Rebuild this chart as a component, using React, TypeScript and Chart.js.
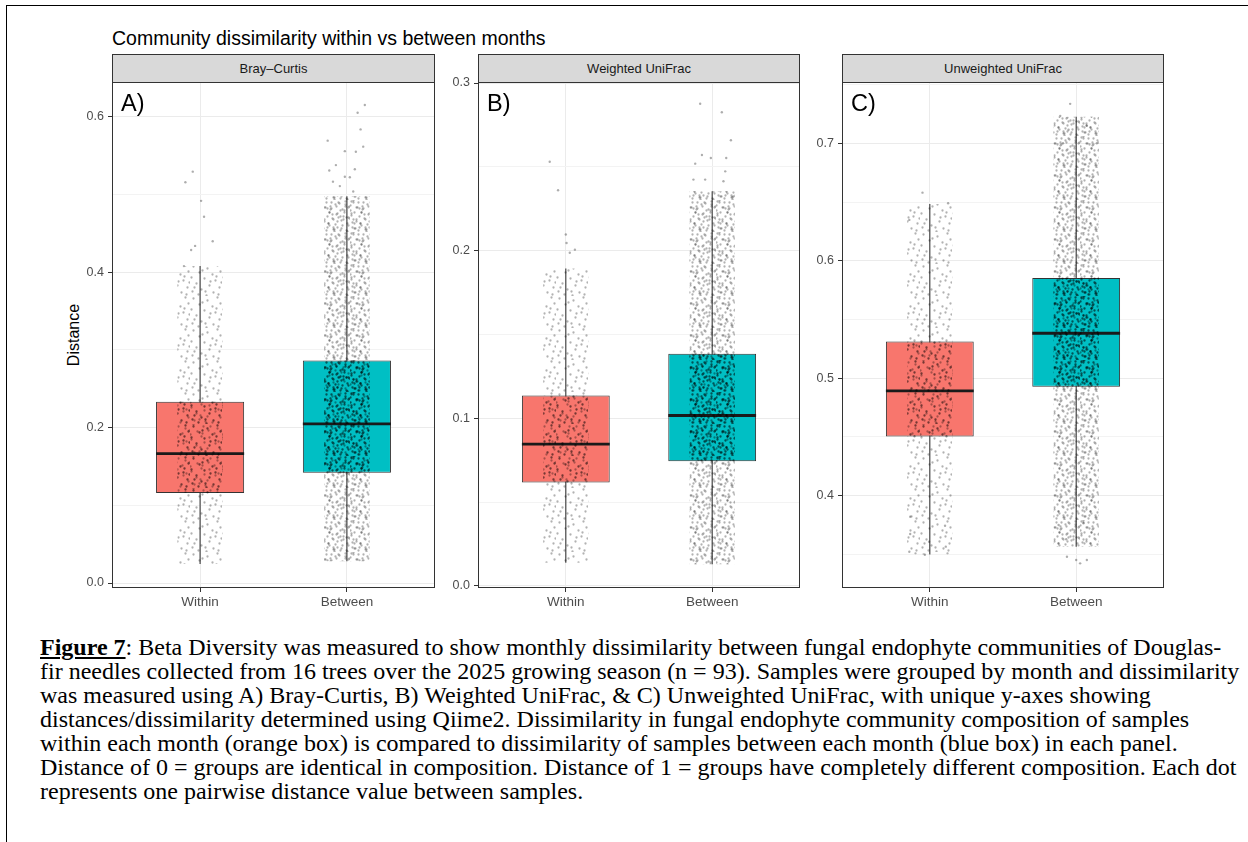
import React, { useEffect, useRef } from "react";
import { Chart, registerables } from "chart.js";

Chart.register(...registerables);

// ---------- data ----------
const categories = ["Within", "Between"];
const panelTitles = ["Bray–Curtis", "Weighted UniFrac", "Unweighted UniFrac"];
const panelTags = ["A)", "B)", "C)"];

// five-number summaries: [lower whisker, Q1, median, Q3, upper whisker]
const brayWithin = [0.0245, 0.116, 0.1665, 0.2335, 0.408];
const brayBetween = [0.028, 0.142, 0.205, 0.2865, 0.498];
const wuniWithin = [0.0139, 0.0617, 0.0846, 0.1136, 0.1893];
const wuniBetween = [0.013, 0.0744, 0.1017, 0.1385, 0.2354];
const uuniWithin = [0.35, 0.4503, 0.4892, 0.5312, 0.6483];
const uuniBetween = [0.3566, 0.4928, 0.5383, 0.5853, 0.7227];

// isolated points beyond the dense cloud: value and horizontal jitter (category units)
const brayWithinPts = [0.5296, 0.516, 0.492, 0.4716, 0.44, 0.434, 0.4287, 0.408];
const brayWithinJit = [-0.05, -0.1, 0.007, 0.027, 0.086, -0.034, -0.061, -0.11];
const brayBetweenPts = [0.6154, 0.6055, 0.584, 0.5695, 0.5618, 0.556, 0.5553, 0.538, 0.5326, 0.531, 0.523, 0.5223, 0.5167, 0.511, 0.504];
const brayBetweenJit = [0.122, 0.073, 0.093, -0.131, 0.111, -0.014, 0.061, -0.075, 0.054, -0.12, -0.014, 0.02, -0.095, -0.048, 0.043];
const wuniWithinPts = [0.253, 0.236, 0.2096, 0.2006, 0.1988, 0.2046];
const wuniWithinJit = [-0.11, -0.053, 0.0, 0.062, 0.027, 0.005];
const wuniBetweenPts = [0.2876, 0.2826, 0.2659, 0.2519, 0.2571, 0.2553, 0.2553, 0.2473, 0.2424, 0.2424, 0.2414, 0.2324];
const wuniBetweenJit = [-0.082, 0.066, 0.128, -0.116, -0.07, -0.009, 0.096, 0.089, -0.128, -0.048, 0.077, 0.146];
const uuniWithinPts = [0.658, 0.649, 0.6348, 0.3523, 0.3497, 0.3566, 0.3674, 0.382, 0.3744, 0.3608];
const uuniWithinJit = [-0.05, 0.125, -0.14, -0.14, -0.034, 0.109, -0.134, -0.134, 0.104, -0.005];
const uuniBetweenPts = [0.7336, 0.7234, 0.715, 0.7115, 0.7, 0.7, 0.348, 0.3452, 0.3452, 0.3424, 0.3629, 0.3765, 0.375];
const uuniBetweenJit = [-0.041, -0.109, 0.073, -0.052, -0.09, 0.141, -0.063, 0.0, 0.073, 0.027, -0.068, 0.05, -0.12];

// axis ticks
const brayMajor = [0.0, 0.2, 0.4, 0.6];
const brayMinor = [0.1, 0.3, 0.5];
const wuniMajor = [0.0, 0.1, 0.2, 0.3];
const wuniMinor = [0.05, 0.15, 0.25];
const uuniMajor = [0.4, 0.5, 0.6, 0.7];
const uuniMinor = [0.35, 0.45, 0.55, 0.65, 0.75];

const captionLines = [
  "Beta Diversity was measured to show monthly dissimilarity between fungal endophyte communities of Douglas-",
  "fir needles collected from 16 trees over the 2025 growing season (n = 93). Samples were grouped by month and dissimilarity",
  "was measured using A) Bray-Curtis, B) Weighted UniFrac, & C) Unweighted UniFrac, with unique y-axes showing",
  "distances/dissimilarity determined using Qiime2. Dissimilarity in fungal endophyte community composition of samples",
  "within each month (orange box) is compared to dissimilarity of samples between each month (blue box) in each panel.",
  "Distance of 0 = groups are identical in composition. Distance of 1 = groups have completely different composition. Each dot",
  "represents one pairwise distance value between samples.",
];

// ---------- layout & style ----------
const FONT = "'Liberation Sans', Arial, sans-serif";
const SERIF = "'Liberation Serif', 'Times New Roman', serif";
const BOX_WIDTH = 0.6;
const CLOUD_WIDTH = 0.31;
const X_MIN = 0.4;
const X_MAX = 2.6;
const YW = 50;
const XH = 30;
const TOP_PAD = 10;
const AREA_TOP = 82;
const AREA_BOTTOM = 588;
const FILLS = ["#F8766D", "#00BFC4"];

// texture for the dense jitter clouds (style only)
const TILE_DOTS = [
  [3, 2], [17, 4], [27, 1], [9, 8], [22, 10], [30, 7], [1, 13], [14, 14],
  [25, 16], [6, 19], [19, 21], [29, 23], [11, 25], [2, 27], [23, 28], [16, 31],
  [8, 30], [31, 18], [12, 6], [26, 12], [4, 23], [20, 17], [15, 27], [28, 30],
];
const TILE_SHIFTS = [[0, 0], [16, 11], [7, 21], [24, 26]];

function makePattern(copies: number, alpha: number): any {
  const size = 32;
  const c = document.createElement("canvas");
  c.width = size;
  c.height = size;
  const g = c.getContext("2d");
  if (!g) return "rgba(0,0,0,0.15)";
  g.fillStyle = `rgba(0,0,0,${alpha})`;
  const put = (x: number, y: number) => {
    g.beginPath();
    g.arc((x % size) + 0.5, (y % size) + 0.5, 1.15, 0, Math.PI * 2);
    g.fill();
  };
  TILE_SHIFTS.slice(0, copies).forEach(([dx, dy]) => {
    TILE_DOTS.forEach(([x, y]) => put(x + dx, y + dy));
  });
  return g.createPattern(c, "repeat") || "rgba(0,0,0,0.15)";
}

type PanelSpec = {
  title: string;
  tag: string;
  stats: number[][];
  pts: number[][];
  jit: number[][];
  major: number[];
  minor: number[];
  yMin: number;
  yMax: number;
  left: number;
  right: number;
};

const panels: PanelSpec[] = [
  {
    title: panelTitles[0], tag: panelTags[0],
    stats: [brayWithin, brayBetween],
    pts: [brayWithinPts, brayBetweenPts], jit: [brayWithinJit, brayBetweenJit],
    major: brayMajor, minor: brayMinor, yMin: -0.0064, yMax: 0.645, left: 112, right: 435,
  },
  {
    title: panelTitles[1], tag: panelTags[1],
    stats: [wuniWithin, wuniBetween],
    pts: [wuniWithinPts, wuniBetweenPts], jit: [wuniWithinJit, wuniBetweenJit],
    major: wuniMajor, minor: wuniMinor, yMin: -0.0012, yMax: 0.3006, left: 478, right: 800,
  },
  {
    title: panelTitles[2], tag: panelTags[2],
    stats: [uuniWithin, uuniBetween],
    pts: [uuniWithinPts, uuniBetweenPts], jit: [uuniWithinJit, uuniBetweenJit],
    major: uuniMajor, minor: uuniMinor, yMin: 0.3214, yMax: 0.7522, left: 842, right: 1164,
  },
];

const isIn = (v: number, arr: number[]) => arr.some((t) => Math.abs(t - v) < 1e-9);

const panelBorder = {
  id: "panelBorder",
  afterDraw(chart: any) {
    const { ctx, chartArea: a } = chart;
    ctx.save();
    ctx.strokeStyle = "#333333";
    ctx.lineWidth = 1;
    const l = Math.round(a.left) + 0.5;
    const t = Math.round(a.top) + 0.5;
    const r = Math.round(a.right) - 0.5;
    const b = Math.round(a.bottom) - 0.5;
    ctx.strokeRect(l, t, r - l, b - t);
    ctx.restore();
  },
};

function buildConfig(p: PanelSpec): any {
  const xs = categories.map((_, i) => i + 1);
  const sparse = makePattern(1, 0.3);
  const medium = makePattern(2, 0.32);
  const mediumDense = makePattern(3, 0.3);
  const dense = makePattern(4, 0.36);

  const whiskers: any[] = [];
  const medians: any[] = [];
  xs.forEach((x, i) => {
    const s = p.stats[i];
    if (i > 0) {
      whiskers.push({ x: x - 0.5, y: null });
      medians.push({ x: x - 0.5, y: null });
    }
    whiskers.push({ x, y: s[0] }, { x, y: s[4] });
    medians.push({ x: x - BOX_WIDTH / 2, y: s[2] }, { x: x + BOX_WIDTH / 2, y: s[2] });
  });
  const points: any[] = [];
  xs.forEach((x, i) => {
    p.pts[i].forEach((v, k) => points.push({ x: x + p.jit[i][k], y: v }));
  });

  const allTicks = [...p.major, ...p.minor].sort((a, b) => a - b);

  return {
    type: "bar",
    data: {
      datasets: [
        {
          type: "line",
          data: whiskers,
          borderColor: "#3a3a3a",
          borderWidth: 1.1,
          pointRadius: 0,
          spanGaps: false,
          order: 9,
        },
        {
          type: "bar",
          data: xs.map((x, i) => ({ x, y: [p.stats[i][1], p.stats[i][3]] })),
          backgroundColor: FILLS,
          borderColor: "#333333",
          borderWidth: 1,
          borderSkipped: false,
          grouped: false,
          categoryPercentage: 1,
          barPercentage: BOX_WIDTH,
          order: 8,
        },
        {
          type: "line",
          data: medians,
          borderColor: "#1a1a1a",
          borderWidth: 2.8,
          pointRadius: 0,
          spanGaps: false,
          order: 7,
        },
        {
          type: "bar",
          data: xs.map((x, i) => ({ x, y: [p.stats[i][0], p.stats[i][4]] })),
          backgroundColor: [sparse, mediumDense],
          borderWidth: 0,
          grouped: false,
          categoryPercentage: 1,
          barPercentage: CLOUD_WIDTH,
          order: 6,
        },
        {
          type: "bar",
          data: xs.map((x, i) => ({ x, y: [p.stats[i][1], p.stats[i][3]] })),
          backgroundColor: [medium, dense],
          borderWidth: 0,
          grouped: false,
          categoryPercentage: 1,
          barPercentage: CLOUD_WIDTH,
          order: 5,
        },
        {
          type: "scatter",
          data: points,
          backgroundColor: "rgba(0,0,0,0.32)",
          borderWidth: 0,
          pointRadius: 1.2,
          order: 4,
        },
      ],
    },
    options: {
      animation: false,
      responsive: false,
      maintainAspectRatio: false,
      events: [],
      layout: { autoPadding: false, padding: { top: TOP_PAD, right: 2, left: 0, bottom: 0 } },
      plugins: {
        legend: { display: false },
        tooltip: { enabled: false },
        title: { display: false },
      },
      scales: {
        x: {
          type: "linear",
          min: X_MIN,
          max: X_MAX,
          offset: false,
          afterBuildTicks: (s: any) => {
            s.ticks = xs.map((v) => ({ value: v }));
          },
          afterFit: (s: any) => {
            s.height = XH;
            s.paddingLeft = 0;
            s.paddingRight = 0;
          },
          ticks: {
            autoSkip: false,
            maxRotation: 0,
            padding: 2,
            color: "#4D4D4D",
            font: { family: FONT, size: 13.5 },
            callback: (v: number) => categories[Math.round(v) - 1] ?? "",
          },
          grid: {
            offset: false,
            color: "#EBEBEB",
            tickColor: "#333333",
            tickLength: 4,
          },
          border: { display: false },
        },
        y: {
          type: "linear",
          min: p.yMin,
          max: p.yMax,
          afterBuildTicks: (s: any) => {
            s.ticks = allTicks.map((v) => ({ value: v }));
          },
          afterFit: (s: any) => {
            s.width = YW;
            s.paddingTop = 0;
            s.paddingBottom = 0;
          },
          ticks: {
            autoSkip: false,
            padding: 4,
            color: "#4D4D4D",
            font: { family: FONT, size: 12.5 },
            callback: (v: number) => (isIn(v, p.major) ? v.toFixed(1) : ""),
          },
          grid: {
            color: (c: any) => (c.tick && isIn(c.tick.value, p.major) ? "#EBEBEB" : "#F3F3F3"),
            tickColor: (c: any) => (c.tick && isIn(c.tick.value, p.major) ? "#333333" : "rgba(0,0,0,0)"),
            tickLength: 4,
          },
          border: { display: false },
        },
      },
    },
    plugins: [panelBorder],
  };
}

function Panel({ spec }: { spec: PanelSpec }) {
  const ref = useRef<HTMLCanvasElement | null>(null);
  const width = spec.right - spec.left + YW + 2;
  const height = AREA_BOTTOM - AREA_TOP + TOP_PAD + XH;
  useEffect(() => {
    if (!ref.current) return;
    const chart = new Chart(ref.current, buildConfig(spec));
    return () => chart.destroy();
  }, [spec]);
  return (
    <>
      <canvas
        ref={ref}
        width={width}
        height={height}
        style={{
          position: "absolute",
          left: spec.left - YW,
          top: AREA_TOP - TOP_PAD,
          width,
          height,
        }}
      />
      <div
        style={{
          position: "absolute",
          left: spec.left,
          top: 54,
          width: spec.right - spec.left,
          height: 29,
          boxSizing: "border-box",
          background: "#D9D9D9",
          border: "1px solid #333333",
          font: `13px ${FONT}`,
          color: "#1A1A1A",
          textAlign: "center",
          lineHeight: "27px",
        }}
      >
        {spec.title}
      </div>
      <div
        style={{
          position: "absolute",
          left: spec.left + 9,
          top: 91,
          font: `23.5px ${FONT}`,
          lineHeight: "24px",
          color: "#000",
        }}
      >
        {spec.tag}
      </div>
    </>
  );
}

export default function App() {
  return (
    <div
      style={{
        position: "absolute",
        left: 0,
        top: 0,
        width: 1248,
        height: 842,
        background: "#fff",
        overflow: "hidden",
      }}
    >
      <div
        style={{
          position: "absolute",
          left: 6,
          top: 5,
          width: 1260,
          height: 900,
          borderLeft: "1px solid #000",
          borderTop: "1px solid #000",
        }}
      />
      <div
        style={{
          position: "absolute",
          left: 112,
          top: 27,
          font: `19.5px ${FONT}`,
          lineHeight: "22px",
          color: "#000",
          whiteSpace: "nowrap",
        }}
      >
        Community dissimilarity within vs between months
      </div>
      <div
        style={{
          position: "absolute",
          left: 74,
          top: 335,
          transform: "translate(-50%, -50%) rotate(-90deg)",
          font: `16px ${FONT}`,
          color: "#000",
          whiteSpace: "nowrap",
        }}
      >
        Distance
      </div>
      {panels.map((p, i) => (
        <Panel key={i} spec={p} />
      ))}
      <div
        style={{
          position: "absolute",
          left: 40,
          top: 635,
          font: `24px ${SERIF}`,
          lineHeight: "24px",
          color: "#000",
        }}
      >
        {captionLines.map((line, i) => (
          <div key={i} style={{ whiteSpace: "nowrap" }}>
            {i === 0 ? (
              <>
                <span style={{ fontWeight: "bold", textDecoration: "underline" }}>Figure 7</span>
                {": "}
              </>
            ) : null}
            {line}
          </div>
        ))}
      </div>
    </div>
  );
}
